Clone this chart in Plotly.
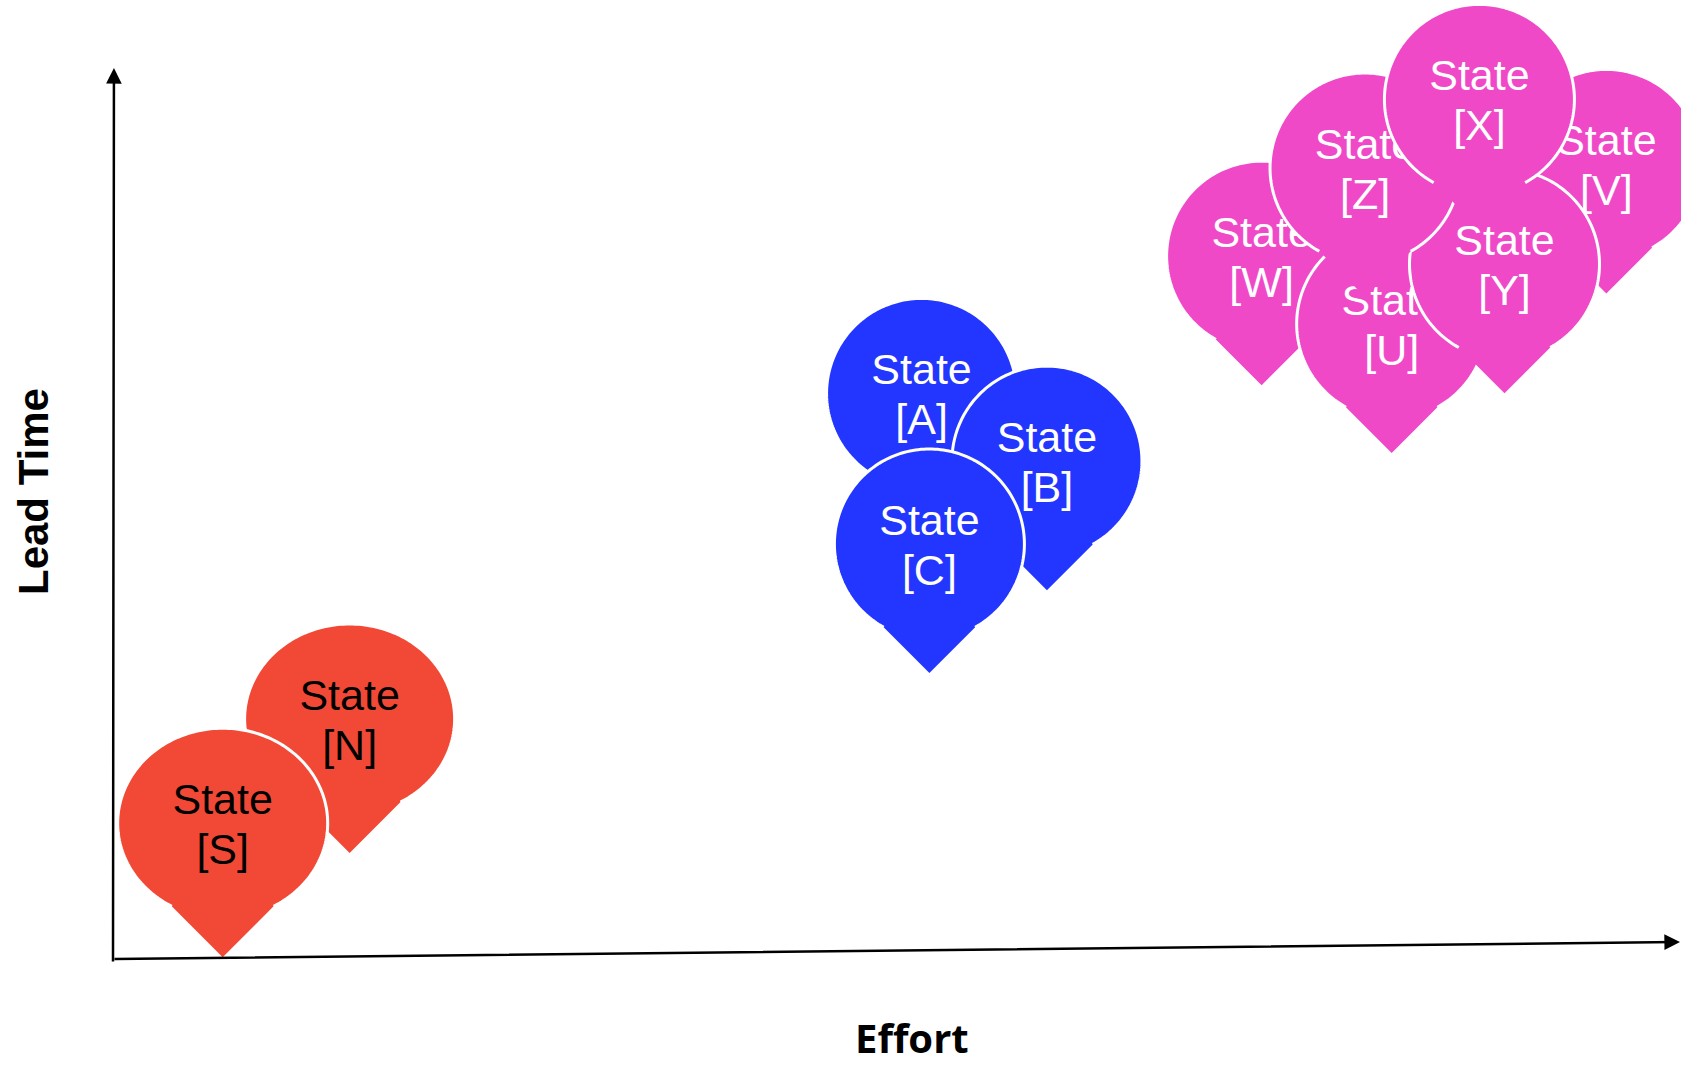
import math
import plotly.graph_objects as go

# ---------------- data ----------------
states = ["N", "S", "A", "B", "C", "W", "U", "V", "Y", "Z", "X"]          # drawing order (back -> front)
effort = [1.51, 0.70, 5.16, 5.96, 5.21, 7.33, 8.16, 9.53, 8.88, 7.99, 8.72]
lead_time = [1.19, 0.02, 4.90, 4.14, 3.21, 6.44, 5.68, 7.47, 6.35, 7.43, 8.20]
cluster = ["low", "low", "mid", "mid", "mid", "high", "high", "high", "high", "high", "high"]

x_axis_title = "Effort"
y_axis_title = "Lead Time"

# ---------------- styling ----------------
W, H = 1681, 1066
ORIGIN_PX = (113, 959)      # pixel position of the axes origin
X_END_PX = 1680             # pixel x of effort = 10
Y_END_PX = 68               # pixel y of lead time = 10
X_MAX, Y_MAX = 10.0, 10.0

STYLE = {
    "low":  dict(fill="#F24936", text="#000000", rx=105, ry=95, tip=134),
    "mid":  dict(fill="#2236FF", text="#FFFFFF", rx=95, ry=95, tip=129),
    "high": dict(fill="#F049C8", text="#FFFFFF", rx=95, ry=95, tip=129),
}
LABEL_FONT = "Liberation Sans, Arial, sans-serif"
LABEL_SIZE = 43
BASE1_FROM_TOP = 86
BASE2_FROM_TOP = 136

px_per_x = (X_END_PX - ORIGIN_PX[0]) / X_MAX
px_per_y = (ORIGIN_PX[1] - Y_END_PX) / Y_MAX
x_range = [-ORIGIN_PX[0] / px_per_x, (W - ORIGIN_PX[0]) / px_per_x]
y_range = [-(H - ORIGIN_PX[1]) / px_per_y, ORIGIN_PX[1] / px_per_y]


def pin_geometry(rx, ry, t, n=180):
    """Map-pin glyph in pixels relative to its tip (y up): ellipse centred t above tip
    united with a 90-degree corner at the tip."""
    a = 1 / rx**2 + 1 / ry**2
    b = -2 * t / ry**2
    c = t**2 / ry**2 - 1
    s = (-b - math.sqrt(b * b - 4 * a * c)) / (2 * a)
    th0 = math.atan2((s - t) / ry, s / rx)
    th1 = math.pi - th0
    arc = []
    for i in range(n + 1):
        th = th0 + (th1 - th0) * i / n
        arc.append((rx * math.cos(th), t + ry * math.sin(th)))
    fill = "M0,0 " + " ".join(f"L{x:.2f},{y:.2f}" for x, y in arc) + " Z"
    line = "M" + " L".join(f"{x:.2f},{y:.2f}" for x, y in arc)
    return fill, line


fig = go.Figure()

fig.add_trace(go.Scatter(
    x=effort, y=lead_time, mode="markers",
    marker=dict(size=2, opacity=0),
    text=[f"State [{s}]" for s in states],
    hoverinfo="text", showlegend=False,
))

for s, e, lt, cl in zip(states, effort, lead_time, cluster):
    st = STYLE[cl]
    fill_path, arc_path = pin_geometry(st["rx"], st["ry"], st["tip"])
    font = dict(family=LABEL_FONT, size=LABEL_SIZE, color=st["text"])
    common = dict(type="path", xref="x", yref="y", xsizemode="pixel", ysizemode="pixel",
                  xanchor=e, yanchor=lt, layer="above")
    fig.add_shape(**common, path=fill_path, fillcolor=st["fill"], line=dict(width=0),
                  label=dict(text="State", font=font, textposition="top center",
                             padding=BASE1_FROM_TOP - LABEL_SIZE))
    fig.add_shape(**common, path=arc_path, fillcolor="rgba(0,0,0,0)",
                  line=dict(color="white", width=3),
                  label=dict(text=f"[{s}]", font=font, textposition="top center",
                             padding=BASE2_FROM_TOP - LABEL_SIZE))

# axes drawn as arrows
x_tilt = (ORIGIN_PX[1] - 942) / px_per_y
fig.add_annotation(x=X_MAX, y=x_tilt, ax=0, ay=0, xref="x", yref="y", axref="x", ayref="y",
                   text="", showarrow=True, arrowhead=2, arrowsize=1.25, arrowwidth=2.5,
                   arrowcolor="black")
fig.add_annotation(x=0.006, y=Y_MAX, ax=0, ay=-0.045, xref="x", yref="y", axref="x", ayref="y",
                   text="", showarrow=True, arrowhead=2, arrowsize=1.25, arrowwidth=2.5,
                   arrowcolor="black")

fig.add_annotation(text=f"<b>{x_axis_title}</b>", xref="paper", yref="paper",
                   x=912 / W, y=0, xanchor="center", yanchor="bottom", borderpad=0,
                   showarrow=False, font=dict(family="Open Sans, sans-serif", size=40, color="black"))
fig.add_annotation(text=f"<b>{y_axis_title}</b>", xref="paper", yref="paper",
                   x=33 / W, y=1 - 492 / H, xanchor="center", yanchor="middle", textangle=-90,
                   showarrow=False, font=dict(family="Liberation Sans, Arial, sans-serif", size=42, color="black"))

fig.update_layout(
    width=W, height=H, margin=dict(l=0, r=0, t=0, b=0, pad=0),
    paper_bgcolor="white", plot_bgcolor="white",
    xaxis=dict(visible=False, range=x_range, fixedrange=True),
    yaxis=dict(visible=False, range=y_range, fixedrange=True),
    showlegend=False,
)

fig.write_html("out.html", config={"displayModeBar": False},
               post_script="document.body.style.margin='0';")
